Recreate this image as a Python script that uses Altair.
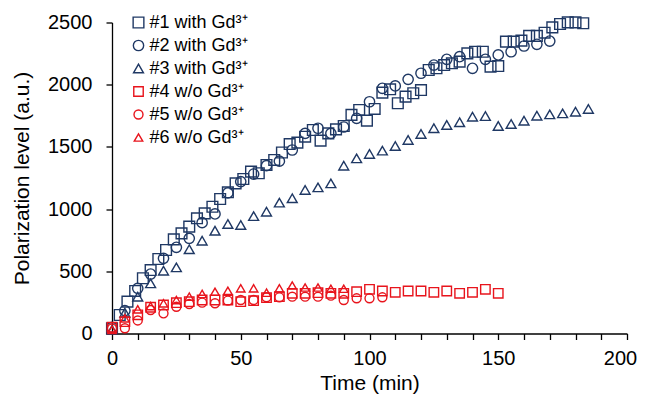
import altair as alt
import pandas as pd

series_names = ["#1 with Gd³⁺", "#2 with Gd³⁺", "#3 with Gd³⁺",
                "#4 w/o Gd³⁺", "#5 w/o Gd³⁺", "#6 w/o Gd³⁺"]
series_colors = ["#1F3864", "#1F3864", "#1F3864", "#E8141C", "#E8141C", "#E8141C"]
series_shapes = ["square", "circle", "triangle-up", "square", "circle", "triangle-up"]
series_sizes = [115, 72, 105, 115, 72, 105]

s1_time = [0, 3, 6, 9, 12, 15, 18, 21, 24, 27, 30, 33, 36, 39, 42, 45, 48, 51, 54, 57,
           60, 63, 66, 69, 72, 75, 78, 81, 84, 87, 90, 93, 96, 99, 102, 105, 108, 111,
           114, 117, 120, 123, 126, 129, 132, 135, 138, 141, 144, 147, 150, 153, 156,
           159, 162, 165, 168, 171, 174, 177, 180, 183]
s1_val = [42, 149, 256, 342, 444, 510, 599, 671, 757, 805, 859, 926, 966, 1019, 1081,
          1135, 1207, 1242, 1301, 1288, 1355, 1395, 1455, 1523, 1534, 1582, 1636, 1550,
          1609, 1641, 1668, 1757, 1797, 1711, 1805, 1936, 1963, 1851, 1904, 1931, 1957,
          2118, 2132, 2158, 2172, 2185, 2252, 2265, 2265, 2145, 2150, 2346, 2346, 2354,
          2392, 2392, 2418, 2461, 2488, 2501, 2501, 2494]

s2_time = [0, 5, 10, 15, 20, 25, 30, 35, 40, 45, 50, 55, 60, 65, 70, 75, 80, 85, 90,
           95, 100, 105, 110, 115, 120, 125, 130, 135, 140, 145, 150, 155, 160, 165, 170]
s2_val = [50, 184, 363, 478, 604, 693, 765, 891, 961, 1130, 1221, 1282, 1349, 1385,
          1475, 1609, 1650, 1609, 1660, 1730, 1863, 1971, 1990, 2043, 2092, 2158, 2204,
          2225, 2132, 2204, 2239, 2265, 2311, 2325, 2351]

s3_time = [0, 5, 10, 15, 20, 25, 30, 35, 40, 45, 50, 55, 60, 65, 70, 75, 80, 85, 90,
           95, 100, 105, 110, 115, 120, 125, 130, 135, 140, 145, 150, 155, 160, 165,
           170, 175, 180, 185]
s3_val = [30, 167, 296, 403, 505, 532, 677, 746, 826, 880, 872, 944, 979, 1052, 1087,
          1154, 1175, 1207, 1349, 1408, 1443, 1470, 1507, 1556, 1604, 1650, 1676, 1698,
          1743, 1748, 1668, 1684, 1711, 1751, 1762, 1770, 1783, 1805]

s4_time = [0, 5, 10, 15, 20, 25, 30, 35, 40, 45, 50, 55, 60, 65, 70, 75, 80, 85, 90,
           95, 100, 105, 110, 115, 120, 125, 130, 135, 140, 145, 150]
s4_val = [50, 95, 150, 211, 229, 248, 256, 269, 269, 269, 256, 264, 288, 296, 323, 323,
          328, 323, 323, 336, 355, 342, 331, 342, 342, 331, 342, 323, 331, 355, 323]

s5_time = [0, 5, 10, 15, 20, 25, 30, 35, 40, 45, 50, 55, 60, 65, 70, 75, 80, 85, 90,
           95, 100, 105]
s5_val = [40, 42, 105, 189, 162, 215, 237, 248, 243, 264, 269, 269, 291, 291, 296, 296,
          296, 304, 269, 283, 283, 291]

s6_time = [0, 5, 10, 15, 20, 25, 30, 35, 40, 45, 50, 55, 60, 65, 70, 75, 80, 85, 90]
s6_val = [30, 122, 194, 221, 243, 269, 296, 318, 336, 344, 363, 363, 328, 363, 386, 370,
          370, 360, 360]

x_tick_values = [0, 10, 20, 30, 40, 50, 60, 70, 80, 90, 100, 110, 120, 130, 140, 150,
                 160, 170, 180, 190, 200]
y_tick_values = [0, 500, 1000, 1500, 2000, 2500]

all_times = [s1_time, s2_time, s3_time, s4_time, s5_time, s6_time]
all_vals = [s1_val, s2_val, s3_val, s4_val, s5_val, s6_val]

rows = []
for idx, (name, ts, vs) in enumerate(zip(series_names, all_times, all_vals)):
    for t, v in zip(ts, vs):
        rows.append({"series": name, "time": t, "value": v, "idx": idx})
df = pd.DataFrame(rows)

font = "Liberation Sans"

chart = alt.Chart(df).mark_point(filled=False, strokeWidth=1.4, opacity=1).encode(
    x=alt.X("time:Q",
            scale=alt.Scale(domain=[0, 200], nice=False),
            axis=alt.Axis(values=x_tick_values,
                          labelExpr="datum.value % 50 === 0 ? datum.label : ''",
                          labelOffset={"condition": {"test": "datum.value === 200",
                                                     "value": -7},
                                       "value": 0},
                          title="Time (min)", labelPadding=9, titlePadding=4,
                          labelOverlap=False, labelFlush=False)),
    y=alt.Y("value:Q",
            scale=alt.Scale(domain=[0, 2500], nice=False),
            axis=alt.Axis(values=y_tick_values, format="d", labelFlush=False,
                          title="Polarization level (a.u.)", labelPadding=14,
                          titlePadding=15)),
    color=alt.Color("series:N",
                    scale=alt.Scale(domain=series_names, range=series_colors),
                    legend=alt.Legend(title=None, orient="none", legendX=17.5,
                                      legendY=-9, padding=0, rowPadding=5,
                                      labelFontSize=18, labelFont=font,
                                      labelColor="#000000", labelOffset=2,
                                      symbolSize=60, symbolStrokeWidth=1.4,
                                      labelLimit=300)),
    shape=alt.Shape("series:N",
                    scale=alt.Scale(domain=series_names, range=series_shapes)),
    size=alt.Size("series:N",
                  scale=alt.Scale(domain=series_names, range=series_sizes),
                  legend=None),
    order=alt.Order("idx:Q"),
).properties(
    width=515, height=311,
    autosize=alt.AutoSizeParams(type="none"),
    padding={"left": 104, "top": 14.5, "right": 11, "bottom": 61.5},
).configure_view(
    stroke=None
).configure_axis(
    grid=False,
    domainColor="#000000", domainWidth=1.3,
    tickColor="#000000", tickWidth=1.3, tickSize=6,
    labelFont=font, labelFontSize=20, labelColor="#000000",
    titleFont=font, titleFontSize=21, titleFontWeight="normal", titleColor="#000000",
)

chart.save("out.html", embed_options={"renderer": "svg", "actions": False})
